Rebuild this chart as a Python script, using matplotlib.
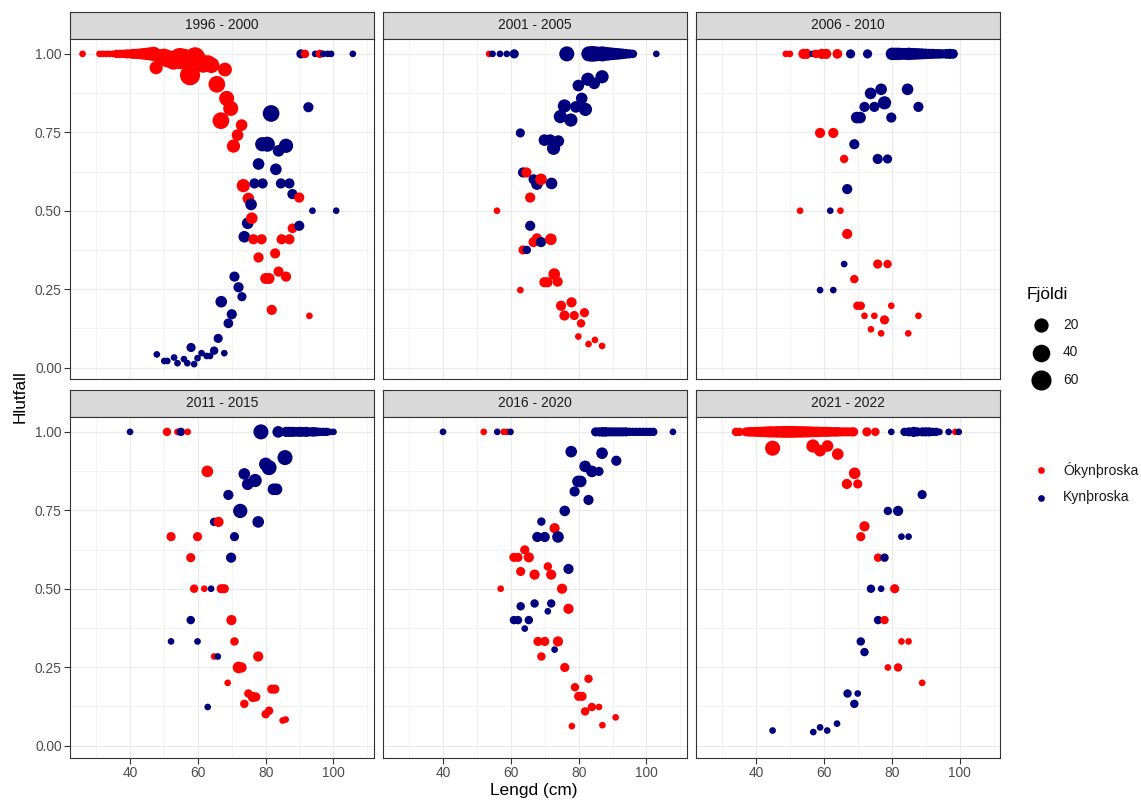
import numpy as np
import matplotlib

matplotlib.use("Agg")
import matplotlib.pyplot as plt

plt.rcParams["font.family"] = ["Liberation Sans", "DejaVu Sans"]

W, H, DPI = 1141, 801, 100

periods = ["1996 - 2000", "2001 - 2005", "2006 - 2010",
           "2011 - 2015", "2016 - 2020", "2021 - 2022"]

# (length cm, proportion, count) per maturity stage and period
imm_1996 = [
    (26, 1, 1), (31, 1, 1), (32, 1, 1), (33, 1, 1), (34, 1, 1), (35, 1, 1),
    (36, 1, 2), (37, 1, 2), (38, 1, 2), (39, 1, 3), (40, 1, 3), (41, 1, 5),
    (42, 1, 5), (43, 1, 7), (44, 1, 9), (45, 1, 12), (46, 1, 15), (47, 1, 20),
    (47.7, 0.956, 15), (49, 0.99, 28), (50, 0.99, 34), (51, 0.985, 40),
    (52.8, 0.98, 50), (54.7, 0.985, 70), (56, 0.985, 55), (57.7, 0.932, 60),
    (59.2, 0.99, 55), (60.5, 0.975, 40), (61.6, 0.968, 40), (63, 0.97, 30),
    (64, 0.964, 28), (65.6, 0.903, 34), (66.8, 0.787, 34), (68, 0.95, 18),
    (68.5, 0.858, 24), (69.7, 0.826, 24), (70.5, 0.706, 15), (71.7, 0.741, 9),
    (72.9, 0.773, 9), (73.4, 0.58, 15), (74.9, 0.539, 9), (75.9, 0.476, 9),
    (76.4, 0.409, 5), (77.9, 0.351, 5), (78.8, 0.409, 5), (80, 0.284, 7),
    (81, 0.284, 7), (81.8, 0.184, 5), (82.8, 0.364, 5), (83.8, 0.306, 5),
    (84.7, 0.409, 5), (86, 0.29, 5), (87, 0.409, 5), (87.9, 0.444, 4),
    (89.9, 0.542, 5), (91.6, 1, 2), (92.9, 0.165, 1), (96, 1, 2),
]
mat_1996 = [
    (47.9, 0.042, 1), (50.1, 0.021, 1), (51, 0.021, 1), (53, 0.032, 1),
    (54, 0.014, 1), (55.9, 0.027, 1), (56.9, 0.014, 1), (58, 0.064, 3),
    (58.9, 0.011, 1), (59.9, 0.03, 1), (61.1, 0.046, 1), (62.6, 0.037, 1),
    (63.6, 0.037, 1), (64.8, 0.054, 2), (66, 0.093, 3), (66.9, 0.21, 9),
    (67.8, 0.046, 1), (69, 0.141, 4), (70, 0.17, 5), (70.8, 0.29, 5),
    (72, 0.256, 5), (73, 0.226, 3), (73.7, 0.417, 9), (74.7, 0.46, 9),
    (75.7, 0.52, 9), (76.7, 0.587, 5), (77.9, 0.649, 9), (79, 0.712, 20),
    (79.1, 0.587, 5), (80.5, 0.712, 24), (81.6, 0.81, 34), (83, 0.632, 9),
    (83.8, 0.691, 9), (84.5, 0.587, 5), (86, 0.707, 20), (87, 0.587, 5),
    (87.9, 0.553, 5), (89.9, 0.452, 5), (90.4, 1, 3), (92.6, 0.83, 5),
    (93.8, 0.5, 1), (94.6, 1, 1), (97, 1, 1), (98.3, 1, 1), (99.3, 1, 1),
    (100.8, 0.5, 1), (105.7, 1, 1),
]

imm_2001 = [
    (53.6, 1, 1), (55.9, 0.5, 1), (62.8, 0.247, 1), (63.6, 0.375, 3),
    (64.6, 0.622, 5), (65.7, 0.542, 5), (66.7, 0.4, 5), (67.7, 0.412, 5),
    (68.9, 0.6, 9), (69.9, 0.272, 5), (70.8, 0.272, 5), (71.8, 0.409, 9),
    (72.8, 0.298, 9), (73.8, 0.274, 5), (74.8, 0.197, 5), (75.8, 0.166, 5),
    (77.9, 0.208, 5), (78.7, 0.166, 3), (79.9, 0.099, 1), (80.7, 0.141, 2),
    (81.7, 0.175, 3), (82.9, 0.075, 1), (84.8, 0.088, 1), (86.9, 0.069, 1),
]
mat_2001 = [
    (54.6, 1, 1), (56.8, 1, 1), (58.8, 1, 1), (61, 1, 3), (62.8, 0.748, 3),
    (63.6, 0.622, 5), (64.7, 0.375, 2), (65.7, 0.452, 5), (66.7, 0.6, 5),
    (67.7, 0.585, 9), (68.9, 0.4, 5), (69.9, 0.725, 9), (71.6, 0.725, 9),
    (72, 0.587, 9), (72.6, 0.699, 15), (74, 0.722, 9), (74.6, 0.8, 15),
    (75.8, 0.834, 15), (76.5, 1, 24), (77.7, 0.789, 15), (79.2, 0.831, 9),
    (79.9, 0.899, 9), (80.9, 0.858, 9), (82, 0.823, 15), (82.7, 0.919, 15),
    (84.6, 0.906, 9), (86.9, 0.927, 15),
    (83, 1, 24), (84, 1, 28), (85, 1, 24), (86, 1, 20), (87, 1, 24),
    (88, 1, 18), (89, 1, 15), (90, 1, 12), (91, 1, 10), (92, 1, 8),
    (93, 1, 6), (94, 1, 4), (95, 1, 3), (96, 1, 2), (102.9, 1, 1),
]

imm_2006 = [
    (48.7, 1, 1), (49.9, 1, 1), (52.9, 0.5, 1), (53.9, 1, 5), (54.8, 1, 5),
    (57.6, 1, 2), (58.8, 0.748, 5), (59.3, 1, 5), (60.6, 1, 5), (62.7, 0.748, 5),
    (63.9, 1, 4), (64.8, 0.5, 1), (65.9, 0.665, 2), (66.8, 0.426, 5),
    (68.9, 0.282, 2), (69.8, 0.197, 2), (70.8, 0.197, 2), (71.9, 0.165, 1),
    (73.8, 0.122, 1), (74.8, 0.165, 1), (75.8, 0.33, 3), (76.8, 0.109, 1),
    (77.8, 0.152, 3), (78.7, 0.33, 2), (79.8, 0.197, 1), (84.8, 0.109, 1),
    (87.8, 0.165, 1),
]
mat_2006 = [
    (56.6, 1, 1), (58.8, 0.247, 1), (61.8, 0.5, 1), (62.7, 0.247, 1),
    (65.9, 0.33, 1), (66.8, 0.569, 5), (67.8, 1, 3), (68.9, 0.712, 5),
    (69.6, 0.797, 9), (70.6, 0.797, 9), (71.9, 0.831, 5), (72.8, 1, 3),
    (73.7, 0.874, 9), (74.8, 0.831, 5), (75.8, 0.665, 5), (76.8, 0.887, 9),
    (77.8, 0.844, 15), (78.7, 0.665, 3), (79.8, 0.797, 5), (84.6, 0.887, 9),
    (87.8, 0.831, 5),
    (80, 1, 12), (81, 1, 12), (82, 1, 12), (83, 1, 10), (84, 1, 10),
    (85, 1, 12), (86, 1, 10), (87, 1, 9), (88, 1, 8), (89, 1, 7), (90, 1, 6),
    (91, 1, 5), (92, 1, 5), (93, 1, 4), (94, 1, 4), (95, 1, 3), (96, 1, 4),
    (97, 1, 5), (98, 1, 4),
]

imm_2011 = [
    (50.9, 1, 2), (52.1, 0.666, 3), (54, 1, 1), (57, 1, 1), (57.9, 0.599, 3),
    (58.9, 0.5, 2), (59.9, 0.666, 3), (61.9, 0.5, 1), (62.8, 0.874, 9),
    (64.8, 0.284, 1), (66.1, 0.713, 5), (66.9, 0.5, 3), (67.8, 0.5, 3),
    (68.8, 0.2, 1), (69.9, 0.4, 5), (70.8, 0.332, 2), (72, 0.249, 9),
    (72.9, 0.249, 5), (73.7, 0.133, 2), (74.9, 0.166, 2), (76.2, 0.155, 5),
    (77.1, 0.155, 3), (77.8, 0.284, 5), (80, 0.1, 2), (81, 0.111, 2),
    (81.8, 0.18, 3), (82.7, 0.18, 3), (85, 0.08, 1), (85.9, 0.083, 1),
]
mat_2011 = [
    (40, 1, 1), (52.1, 0.332, 1), (55, 1, 2), (57.9, 0.4, 2), (59.9, 0.332, 1),
    (62.9, 0.123, 1), (63.9, 0.5, 1), (64.8, 0.713, 2), (65.9, 0.284, 1),
    (69, 0.799, 5), (69.8, 0.599, 5), (70.8, 0.666, 3), (72.5, 0.748, 20),
    (73.7, 0.866, 9), (74.7, 0.833, 9), (76.9, 0.845, 15), (77.8, 0.713, 9),
    (78.6, 1, 24), (80, 0.897, 15), (81, 0.886, 24), (82.3, 0.817, 9),
    (83.2, 0.817, 9), (83.7, 1, 9), (85.7, 0.918, 24),
    (86, 1, 5), (87, 1, 5), (88, 1, 5), (89, 1, 4), (90, 1, 5), (91, 1, 4),
    (92, 1, 5), (93, 1, 3), (94, 1, 4), (95, 1, 3), (96, 1, 2), (97, 1, 2),
    (98, 1, 2), (99, 1, 1), (100, 1, 1),
]

imm_2016 = [
    (52, 1, 1), (57, 0.5, 1), (57.9, 1, 1), (58.9, 1, 1), (60.9, 0.6, 3),
    (62.1, 0.6, 3), (62.9, 0.555, 3), (64.1, 0.624, 3), (65.3, 0.6, 5),
    (67, 0.545, 5), (68, 0.332, 3), (69, 0.284, 2), (70, 0.332, 3),
    (70.9, 0.571, 2), (71.9, 0.545, 5), (72.9, 0.693, 5), (73.9, 0.332, 5),
    (75.1, 0.5, 5), (75.9, 0.249, 3), (77, 0.436, 5), (78, 0.062, 1),
    (78.9, 0.186, 2), (80, 0.157, 3), (81, 0.157, 3), (81.9, 0.109, 2),
    (82.9, 0.213, 2), (83.9, 0.123, 2), (86, 0.123, 1), (87, 0.065, 1),
    (90.9, 0.09, 1),
]
mat_2016 = [
    (40, 1, 1), (56, 1, 1), (59.9, 1, 1), (60.9, 0.4, 2), (62.1, 0.4, 2),
    (62.9, 0.444, 2), (64.1, 0.373, 1), (65.3, 0.4, 2), (67, 0.453, 2),
    (67.8, 0.665, 5), (69, 0.714, 2), (70, 0.665, 5), (70.9, 0.428, 1),
    (71.9, 0.453, 2), (72.9, 0.306, 1), (73.9, 0.665, 9), (75.9, 0.748, 6),
    (77, 0.563, 5), (77.8, 0.937, 9), (78.8, 0.81, 5), (79.8, 0.842, 9),
    (80.6, 0.842, 9), (81.9, 0.89, 9), (82.9, 0.783, 5), (83.9, 0.874, 9),
    (86, 0.874, 3), (86.9, 0.932, 9), (91.1, 0.908, 5),
    (85, 1, 3), (86, 1, 3), (87, 1, 4), (88, 1, 4), (89, 1, 3), (90, 1, 3),
    (91, 1, 3), (92, 1, 3), (93, 1, 3), (94, 1, 3), (95, 1, 2), (96, 1, 2),
    (97, 1, 2), (98, 1, 2), (99, 1, 2), (100, 1, 2), (101, 1, 2), (102, 1, 2),
    (107.8, 1, 1),
]

imm_2021 = [
    (34, 1, 2), (35, 1, 2), (37, 1, 3), (38, 1, 4), (39, 1, 4), (40, 1, 5),
    (41, 1, 5), (42, 1, 6), (43, 1, 7), (44, 1, 8), (45, 1, 8), (46, 1, 9),
    (47, 1, 9), (48, 1, 10), (49, 1, 10), (50, 1, 10), (51, 1, 10), (52, 1, 9),
    (53, 1, 9), (54, 1, 8), (55, 1, 8), (56, 1, 7), (57, 1, 6), (58, 1, 6),
    (59, 1, 5), (60, 1, 5), (61, 1, 5), (62, 1, 4), (63, 1, 4), (64, 1, 4),
    (65, 1, 3), (66, 1, 3), (67, 1, 3), (68, 1, 3), (68.7, 1, 3), (72.6, 1, 3),
    (75.1, 1, 2), (98.7, 1, 1),
    (44.8, 0.948, 24), (56.7, 0.955, 15), (58.8, 0.94, 9), (61, 0.955, 9),
    (64, 0.929, 9), (66.7, 0.834, 5), (69, 0.868, 9), (69.9, 0.834, 3),
    (70.8, 0.666, 3), (71.9, 0.699, 5), (75.9, 0.599, 2), (77.8, 0.4, 2),
    (78.8, 0.249, 1), (80.8, 0.5, 3), (81.8, 0.249, 2), (82.8, 0.332, 1),
    (84.9, 0.332, 1), (88.9, 0.2, 1),
]
mat_2021 = [
    (44.8, 0.048, 1), (56.8, 0.043, 1), (58.8, 0.058, 1), (60.9, 0.048, 1),
    (63.8, 0.07, 1), (66.9, 0.166, 2), (68.9, 0.133, 2), (69.9, 0.166, 1),
    (70.8, 0.332, 2), (71.9, 0.298, 2), (73.8, 0.5, 2), (75.9, 0.4, 2),
    (76.8, 0.5, 1), (77.8, 0.599, 2), (78.8, 0.748, 2), (79.8, 1, 1),
    (81.8, 0.748, 5), (82.8, 0.666, 1), (83.7, 1, 2), (84.9, 0.666, 1),
    (85, 1, 3), (86.4, 1, 5), (87.5, 1, 3), (88.9, 0.8, 3), (89, 1, 3),
    (90, 1, 3), (91, 1, 3), (92, 1, 2), (93, 1, 2), (94, 1, 1), (96.7, 1, 1),
    (99.7, 1, 1),
]

immature = [imm_1996, imm_2001, imm_2006, imm_2011, imm_2016, imm_2021]
mature = [mat_1996, mat_2001, mat_2006, mat_2011, mat_2016, mat_2021]

stage_labels = ["Ókynþroska", "Kynþroska"]
stage_colors = ["#FF0000", "#00007F"]
size_breaks = [20, 40, 60]


def dot_area(n):
    # point diameter grows with sqrt of the count, returned as scatter area (pt^2)
    d_px = 6.7 + 14.5 * np.sqrt((np.asarray(n, dtype=float) - 1) / 69)
    return (d_px * 72 / DPI) ** 2


def px_box(x0, y0, x1, y1):
    return [x0 / W, 1 - y1 / H, (x1 - x0) / W, (y1 - y0) / H]


fig = plt.figure(figsize=(W / DPI, H / DPI), dpi=DPI)

col_left = [70, 383, 696.3]
panel_w = 303.5
strip_top = [11.5, 389.5]
strip_h = 27
panel_h = 341

GRID = "#EBEBEB"
EDGE = "#333333"

for i, period in enumerate(periods):
    r, c = divmod(i, 3)
    x0 = col_left[c]
    y0 = strip_top[r]

    sax = fig.add_axes(px_box(x0, y0, x0 + panel_w, y0 + strip_h))
    sax.set_facecolor("#D9D9D9")
    sax.set_xticks([])
    sax.set_yticks([])
    for sp in sax.spines.values():
        sp.set_color(EDGE)
        sp.set_linewidth(0.8)
    sax.text(0.5, 0.5, period, ha="center", va="center", fontsize=9.9,
             color="#1A1A1A", transform=sax.transAxes)

    ax = fig.add_axes(px_box(x0, y0 + strip_h, x0 + panel_w, y0 + strip_h + panel_h))
    pts = [(x, p, n, 0) for x, p, n in immature[i]] + \
          [(x, p, n, 1) for x, p, n in mature[i]]
    pts.sort(key=lambda t: t[0])
    xs = [t[0] for t in pts]
    ys = [t[1] for t in pts]
    ns = [t[2] for t in pts]
    cs = [stage_colors[t[3]] for t in pts]
    ax.scatter(xs, ys, s=dot_area(ns), c=cs, linewidths=0, zorder=3)

    ax.set_xlim(22.3, 111.8)
    ax.set_ylim(-0.038, 1.049)
    ax.set_xticks([40, 60, 80, 100])
    ax.set_xticks([30, 50, 70, 90, 110], minor=True)
    ax.set_yticks([0, 0.25, 0.5, 0.75, 1.0])
    ax.set_yticks([0.125, 0.375, 0.625, 0.875], minor=True)
    ax.set_yticklabels(["0.00", "0.25", "0.50", "0.75", "1.00"])
    ax.grid(which="major", color=GRID, linewidth=0.8)
    ax.grid(which="minor", color=GRID, linewidth=0.4)
    ax.set_axisbelow(True)
    for sp in ax.spines.values():
        sp.set_color(EDGE)
        sp.set_linewidth(0.8)
        sp.set_zorder(4)
    ax.tick_params(which="minor", length=0)
    ax.tick_params(which="major", length=4.3, width=0.8, color=EDGE,
                   labelsize=9.9, labelcolor="#4D4D4D", pad=1.7)
    if c > 0:
        ax.tick_params(left=False, labelleft=False)
    if r == 0:
        ax.tick_params(bottom=False, labelbottom=False)

fig.text(534 / W, 1 - 790 / H, "Lengd (cm)", ha="center", va="center", fontsize=12.4)
fig.text(20 / W, 1 - 397 / H, "Hlutfall", ha="center", va="center",
         rotation=90, fontsize=12.4)

# legends drawn on an overlay axes measured in pixels
lax = fig.add_axes([0, 0, 1, 1], facecolor="none")
lax.set_xlim(0, W)
lax.set_ylim(H, 0)
lax.axis("off")

key_x, label_x = 1041, 1063
lax.text(1027, 295, "Fjöldi", ha="left", va="center", fontsize=12.4)
for k, n in enumerate(size_breaks):
    ky = 325 + k * 27.5
    lax.scatter([key_x], [ky], s=dot_area(n), c="black", linewidths=0)
    lax.text(label_x, ky, str(n), ha="left", va="center", fontsize=9.9, color="#1A1A1A")

for k, (lab, col) in enumerate(zip(stage_labels, stage_colors)):
    ky = 469.5 + k * 28
    lax.scatter([key_x], [ky], s=dot_area(1), c=col, linewidths=0)
    lax.text(label_x, ky, lab, ha="left", va="center", fontsize=10.1, color="#1A1A1A")

fig.savefig("out.png", dpi=DPI)
